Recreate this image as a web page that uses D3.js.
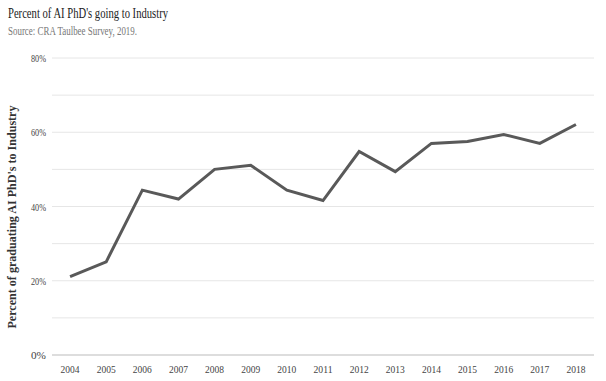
<!DOCTYPE html>
<html><head><meta charset="utf-8">
<script src="https://cdn.jsdelivr.net/npm/d3@7"></script>
<style>body{margin:0;background:#fff}svg{display:block}text{font-family:"Liberation Serif","Times New Roman",serif}</style>
</head><body><svg id="c" width="606" height="381"></svg>
<script>
const years = ["2004","2005","2006","2007","2008","2009","2010","2011","2012","2013","2014","2015","2016","2017","2018"];
const values = [21.1,25.1,44.4,42.0,50.0,51.1,44.4,41.6,54.8,49.4,57.0,57.5,59.4,57.0,62.1];
const yTicks = [0,10,20,30,40,50,60,70,80];
const yLabelTicks = [0,20,40,60,80];
const title = "Percent of AI PhD's going to Industry";
const subtitle = "Source: CRA Taulbee Survey, 2019.";
const yTitle = "Percent of graduating AI PhD's to Industry";

const svg = d3.select("#c");
const L = 52, R = 594, T = 58, B = 355;
const x = d3.scalePoint().domain(years).range([L, R]).padding(0.5);
const y = d3.scaleLinear().domain([0, 80]).range([B, T]);

svg.append("text").attr("x", 8).attr("y", 18).attr("font-size", 15).attr("fill", "#222")
  .attr("textLength", 160).attr("lengthAdjust", "spacingAndGlyphs").text(title);
svg.append("text").attr("x", 8).attr("y", 35).attr("font-size", 11.5).attr("fill", "#777")
  .attr("textLength", 129).attr("lengthAdjust", "spacingAndGlyphs").text(subtitle);

svg.append("g").selectAll("line").data(yTicks).join("line")
  .attr("x1", L).attr("x2", R).attr("y1", d => y(d)).attr("y2", d => y(d))
  .attr("stroke", d => d === 0 ? "#bbb" : "#e6e6e6").attr("stroke-width", 1);

svg.append("g").selectAll("text").data(yLabelTicks).join("text")
  .attr("x", 46).attr("y", d => y(d) + 4).attr("text-anchor", "end")
  .attr("font-size", 11).attr("fill", "#444")
  .attr("textLength", 15).attr("lengthAdjust", "spacingAndGlyphs")
  .text(d => d + "%");

svg.append("g").selectAll("text").data(years).join("text")
  .attr("x", d => x(d)).attr("y", 373).attr("text-anchor", "middle")
  .attr("font-size", 11).attr("fill", "#444")
  .attr("textLength", 19).attr("lengthAdjust", "spacingAndGlyphs")
  .text(d => d);

svg.append("text").attr("transform", "translate(16,217) rotate(-90)")
  .attr("text-anchor", "middle").attr("font-size", 12).attr("font-weight", "bold").attr("fill", "#333")
  .attr("textLength", 223).attr("lengthAdjust", "spacingAndGlyphs").text(yTitle);

const line = d3.line().x((d, i) => x(years[i])).y(d => y(d));
svg.append("path").datum(values).attr("d", line)
  .attr("fill", "none").attr("stroke", "#595959").attr("stroke-width", 3)
  .attr("stroke-linejoin", "miter");
</script></body></html>
